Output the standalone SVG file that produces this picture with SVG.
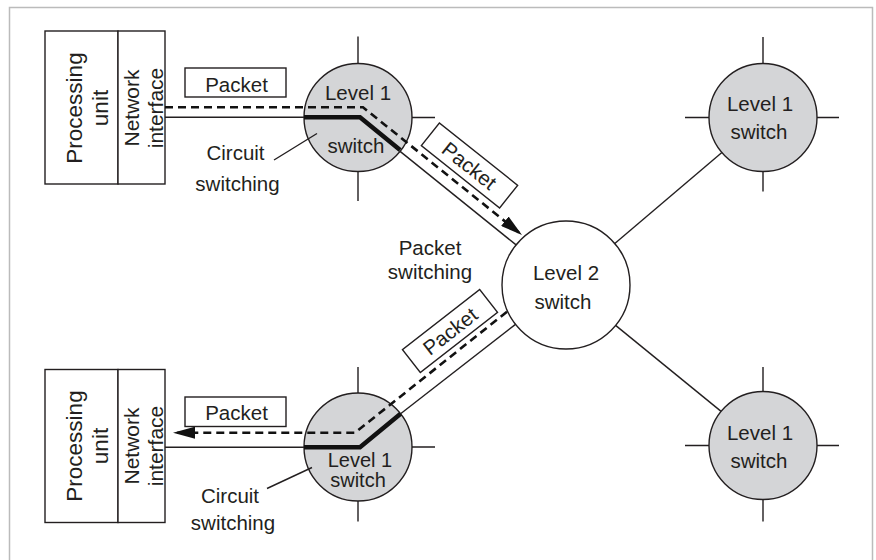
<svg xmlns="http://www.w3.org/2000/svg" width="876" height="560" viewBox="0 0 876 560">
<style>
text{font-family:"Liberation Sans",Arial,Helvetica,sans-serif;font-size:20.5px;fill:#231f20}
.c{text-anchor:middle}
.sw{fill:#d4d5d7;stroke:#231f20;stroke-width:1.4}
.l2{fill:#fff;stroke:#231f20;stroke-width:1.4}
.ln{stroke:#231f20;stroke-width:1.4;fill:none}
.box{fill:#fff;stroke:#231f20;stroke-width:1.4}
.thick{stroke:#111;stroke-width:4.5;fill:none;stroke-linejoin:miter}
.dash{stroke:#111;stroke-width:2.6;fill:none;stroke-dasharray:8 5}
</style>
<defs>
<marker id="arr" viewBox="0 0 22 12" refX="22" refY="6" markerWidth="22" markerHeight="12" markerUnits="userSpaceOnUse" orient="auto">
<path d="M0,0 L22,6 L0,12 Z" fill="#111"/>
</marker>
</defs>
<rect x="9.5" y="7.5" width="863" height="570" fill="#fff" stroke="#bbb" stroke-width="1.5"/>

<g id="pu-top">
<rect class="box" x="45" y="31" width="73" height="153"/>
<text class="c" style="font-size:22.5px" transform="translate(81.5,108) rotate(-90)">Processing</text>
<text class="c" style="font-size:22.5px" transform="translate(108.3,108) rotate(-90)">unit</text>
</g>
<g id="ni-top">
<rect class="box" x="118" y="31" width="47" height="153"/>
<text class="c" style="font-size:21px" transform="translate(139,108) rotate(-90)">Network</text>
<text class="c" style="font-size:21px" transform="translate(162.5,108) rotate(-90)">interface</text>
</g>
<g id="pu-bot">
<rect class="box" x="45" y="369.5" width="73" height="153"/>
<text class="c" style="font-size:22.5px" transform="translate(81.5,446) rotate(-90)">Processing</text>
<text class="c" style="font-size:22.5px" transform="translate(108.3,446) rotate(-90)">unit</text>
</g>
<g id="ni-bot">
<rect class="box" x="118" y="369.5" width="47" height="153"/>
<text class="c" style="font-size:21px" transform="translate(139,446) rotate(-90)">Network</text>
<text class="c" style="font-size:21px" transform="translate(162.5,446) rotate(-90)">interface</text>
</g>

<g id="sw1-tl">
<path class="ln" d="M358,36.5V63.5M358,171.5V201M412,117.5H435"/>
<circle class="sw" cx="358" cy="117.5" r="54"/>
<text class="c" x="358" y="100">Level 1</text>
<text class="c" x="356" y="153">switch</text>
</g>
<g id="sw1-tr">
<path class="ln" d="M763,37V63.5M763,171.5V191.5M685,117.5H709M817,117.5H839"/>
<circle class="sw" cx="763" cy="117.5" r="54"/>
<text class="c" x="760" y="110.5">Level 1</text>
<text class="c" x="759" y="138.5">switch</text>
</g>
<g id="sw1-bl">
<path class="ln" d="M358,367V393M358,501V521.5M412,447H435"/>
<circle class="sw" cx="358" cy="447" r="54"/>
<text class="c" x="360" y="467" style="font-size:20px">Level 1</text>
<text class="c" x="358" y="487" style="font-size:20px">switch</text>
</g>
<g id="sw1-br">
<path class="ln" d="M763,367V391.5M763,499.5V521.5M685,445.5H709M817,445.5H839"/>
<circle class="sw" cx="763" cy="445.5" r="54"/>
<text class="c" x="760" y="439.5">Level 1</text>
<text class="c" x="759" y="467.5">switch</text>
</g>
<g id="sw2">
<circle class="l2" cx="566" cy="285" r="64"/>
<text class="c" x="566" y="280">Level 2</text>
<text class="c" x="563" y="308.5">switch</text>
</g>

<g id="pkt-top">
<rect class="box" x="185" y="68" width="101" height="29"/>
<text class="c" x="236.5" y="92">Packet</text>
</g>
<g id="pkt-diag-top" transform="translate(469.5,165.5) rotate(38.5)">
<rect class="box" x="-50" y="-14.5" width="100" height="29"/>
<text class="c" x="0" y="7.5">Packet</text>
</g>
<g id="pkt-diag-bot" transform="translate(450,331) rotate(-38)">
<rect class="box" x="-49" y="-14.5" width="98" height="29"/>
<text class="c" x="0" y="7.5">Packet</text>
</g>
<g id="pkt-bot">
<rect class="box" x="185" y="397" width="101" height="29.5"/>
<text class="c" x="236.5" y="419.5">Packet</text>
</g>

<g id="labels">
<text class="c" x="235.5" y="160">Circuit</text>
<text class="c" x="237.5" y="190.5">switching</text>
<text class="c" x="230" y="502.5">Circuit</text>
<text class="c" x="233" y="530">switching</text>
<text class="c" x="430" y="254.5">Packet</text>
<text class="c" x="430" y="279">switching</text>
</g>

<g id="connectors">
<path class="ln" d="M165,117.3H304"/>
<path class="ln" d="M165,447.3H304"/>
<path class="ln" d="M400.1,151.4L516.1,244.9"/>
<path class="ln" d="M400.6,413.8L515.5,324.4"/>
<path class="ln" d="M614.8,243.5L721.9,152.5"/>
<path class="ln" d="M615.6,325.4L721.1,411.4"/>
<path class="ln" d="M274,160L317,133.5"/>
<path class="ln" d="M267,488.5L312,467.5"/>
<path class="thick" d="M304,117.3H360L400.1,150"/>
<path class="thick" d="M304,447.3H360L400.6,413.8"/>
<path class="dash" d="M165,107.3H363L522,235" marker-end="url(#arr)"/>
<path class="dash" d="M507,311.7L355,432.7H173" marker-end="url(#arr)"/>
</g>
</svg>
